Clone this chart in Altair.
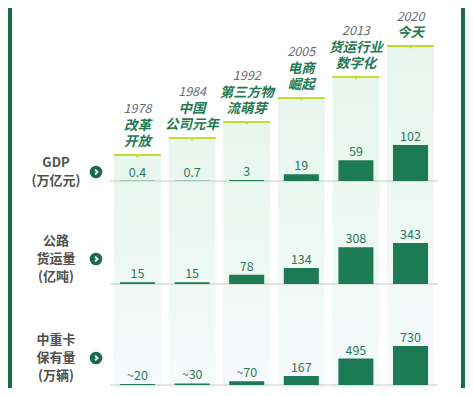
import altair as alt
import pandas as pd

# ---------------- data ----------------
years = ["1978", "1984", "1992", "2005", "2013", "2020"]
milestones = [["改革", "开放"], ["中国", "公司元年"], ["第三方物", "流萌芽"],
              ["电商", "崛起"], ["货运行业", "数字化"], ["今天"]]
step_heights = [26, 43, 59, 83, 104, 135]  # staircase header height of each column

gdp_values = [0.4, 0.7, 3, 19, 59, 102]
gdp_labels = ["0.4", "0.7", "3", "19", "59", "102"]
freight_values = [15, 15, 78, 134, 308, 343]
freight_labels = ["15", "15", "78", "134", "308", "343"]
truck_values = [20, 30, 70, 167, 495, 730]
truck_labels = ["~20", "~30", "~70", "167", "495", "730"]
row_titles = [["GDP", "(万亿元)"], ["公路", "货运量", "(亿吨)"], ["中重卡", "保有量", "(万辆)"]]

# ---------------- style / layout ----------------
FONT = "Noto Sans CJK SC"
GREEN = "#1c7a55"
DARK = "#1b6b49"
LIME = "#c6dc2c"
TXT_GREEN = "#2a7a5a"
W, H = 457, 380
LH = 18

x_scale = alt.Scale(domain=years, range=[102, 430], paddingInner=0.139, paddingOuter=0.073)
X = alt.X("year:N", scale=x_scale, axis=None)
hdr_scale = alt.Scale(domain=[0, 173], range=[173, 0])

def panel_scale(base, dmax, k):
    return alt.Scale(domain=[0, dmax], range=[base, base - dmax * k], zero=True, nice=False)

panels = [
    (gdp_values, gdp_labels, panel_scale(173, 110, 0.353)),
    (freight_values, freight_labels, panel_scale(276, 350, 0.1195)),
    (truck_values, truck_labels, panel_scale(377, 750, 0.0534)),
]
row_pos = [164, 251, 350]

hdr_df = pd.DataFrame({"year": years, "h": step_heights})
line_rows, year_rows = [], []
for y, h, lines in zip(years, step_heights, milestones):
    for i, t in enumerate(reversed(lines)):
        line_rows.append({"year": y, "t": t, "ht": h + 13 + 16.5 * i})
    year_rows.append({"year": y, "t": y, "ht": h + 13 + 16.5 * len(lines)})
lines_df = pd.DataFrame(line_rows)
yrs_df = pd.DataFrame(year_rows)
one = pd.DataFrame({"a": [0]})

layers = []
# borders
layers.append(alt.Chart(one).mark_rect(color=DARK).encode(
    x=alt.value(0), x2=alt.value(4), y=alt.value(0), y2=alt.value(H)))
layers.append(alt.Chart(one).mark_rect(color=DARK).encode(
    x=alt.value(W - 4), x2=alt.value(W), y=alt.value(0), y2=alt.value(H)))

# column backgrounds
grad = alt.Gradient(gradient="linear", x1=0, x2=0, y1=0, y2=1, stops=[
    alt.GradientStop(color="#e8f6ef", offset=0),
    alt.GradientStop(color="#eef8f4", offset=0.5),
    alt.GradientStop(color="#f6fafc", offset=1)])
layers.append(alt.Chart(hdr_df).mark_rect(fill=grad).encode(
    x=X, y=alt.Y("h:Q", scale=hdr_scale, axis=None), y2=alt.value(H)))

# panels
for vals, labs, sc in panels:
    df = pd.DataFrame({"year": years, "value": vals, "label": labs})
    layers.append(alt.Chart(one).mark_rule(color="#c9c9c9", strokeWidth=1).encode(
        x=alt.value(102), x2=alt.value(430),
        y=alt.YDatum(0, type="quantitative", scale=sc, axis=None)))
    layers.append(alt.Chart(df).mark_bar(color=GREEN, width=alt.RelativeBandSize(0.745)).encode(
        x=X, y=alt.Y("value:Q", scale=sc, axis=None)))
    layers.append(alt.Chart(df).mark_text(baseline="alphabetic", dy=-4, fontSize=12.5,
                                          font=FONT, color=TXT_GREEN).encode(
        x=X, y=alt.Y("value:Q", scale=sc, axis=None), text="label:N"))

# header lime lines + notch
layers.append(alt.Chart(hdr_df).mark_tick(color=LIME, thickness=2, size=47, opacity=1).encode(
    x=X, y=alt.Y("h:Q", scale=hdr_scale, axis=None)))
layers.append(alt.Chart(hdr_df).mark_point(shape="M-1,0L0,1L1,0Z", filled=True, size=28,
                                           color=LIME, opacity=1, strokeWidth=0).encode(
    x=X, y=alt.Y("h:Q", scale=hdr_scale, axis=None)))
# milestone texts
layers.append(alt.Chart(lines_df).mark_text(font=FONT, fontSize=13.5, fontWeight="bold",
                                            fontStyle="italic", color="#1e7a50",
                                            baseline="middle").encode(
    x=X, y=alt.Y("ht:Q", scale=hdr_scale, axis=None), text="t:N"))
layers.append(alt.Chart(yrs_df).mark_text(font=FONT, fontSize=12.5, fontStyle="italic",
                                          color="#6b6b6b", baseline="middle").encode(
    x=X, y=alt.Y("ht:Q", scale=hdr_scale, axis=None), text="t:N"))

# row titles with arrow icons
for title, yc in zip(row_titles, row_pos):
    first = yc - (len(title) - 1) * LH / 2
    layers.append(alt.Chart(one).mark_text(text=title, font=FONT, fontSize=13, fontWeight="bold",
                                           color="#505050", lineHeight=LH, align="center",
                                           baseline="middle").encode(
        x=alt.value(48), y=alt.value(first)))
    layers.append(alt.Chart(one).mark_point(shape="circle", filled=True, size=160,
                                            color=DARK, opacity=1).encode(
        x=alt.value(88), y=alt.value(yc)))
    layers.append(alt.Chart(one).mark_point(shape="M-0.35,-0.6L0.25,0L-0.35,0.6", filled=False,
                                            size=64, stroke="white", strokeWidth=2,
                                            opacity=1).encode(
        x=alt.value(88.5), y=alt.value(yc)))

chart = alt.layer(*layers).resolve_scale(y="independent").properties(
    width=W, height=H, padding=0, autosize=alt.AutoSizeParams(type="none"),
    background="white"
).configure_view(stroke=None)

chart.save("out.html", embed_options={"renderer": "svg", "actions": False})
